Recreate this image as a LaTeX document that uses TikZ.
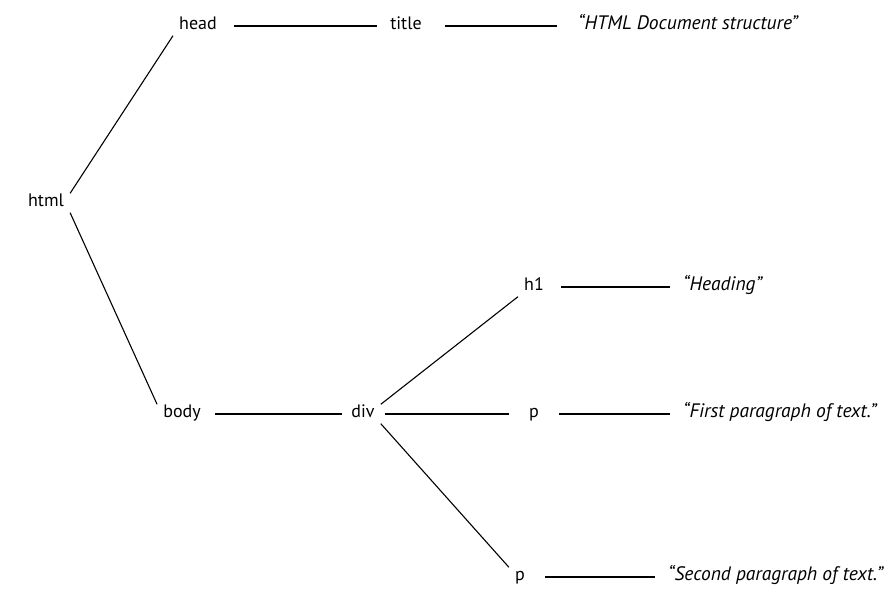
\documentclass[tikz,border=0pt]{standalone}
\usepackage{fontspec}
\setmainfont{PT Sans}
\begin{document}
\begin{tikzpicture}[x=1pt, y=-1pt,
    tagstyle/.style={inner sep=6pt, text height=0.7em, text depth=0pt, font=\fontsize{18}{20}\selectfont},
    quotestyle/.style={tagstyle, anchor=west, font=\fontsize{19.5}{21}\selectfont\itshape},
    link/.style={line width=1.1pt, shorten <=11pt, shorten >=7pt},
    branch/.style={line width=1.1pt}]
                      \useasboundingbox (0,0) rectangle (891,609);

                      \node[tagstyle] (html) at (46,203) {html};
                      \node[tagstyle] (head) at (198,26) {head};
                      \node[tagstyle] (title) at (406,26) {title};
                      \node[quotestyle] (titletext) at (572,26) {“HTML Document structure”};
                      \draw[branch] (html.north east) -- (head.south west);
                      \draw[link] (head) -- (title);
                      \draw[link, shorten <=17pt, shorten >=15pt] (title) -- (titletext);

                      \node[tagstyle] (body) at (182,414) {body};
                      \node[tagstyle] (div) at (363,414) {div};
                      \draw[branch] (html.south east) -- (body.north west);
                      \draw[link, shorten <=8pt, shorten >=3pt] (body) -- (div);

                      \node[tagstyle] (h1) at (534,287) {h1};
                      \node[quotestyle] (h1text) at (677,287) {“Heading”};
                      \node[tagstyle] (pone) at (534,414) {p};
                      \node[quotestyle] (ponetext) at (677,414) {“First paragraph of text.”};
                      \node[tagstyle] (ptwo) at (520,577) {p};
                      \node[quotestyle] (ptwotext) at (662,577) {“Second paragraph of text.”};

                      \draw[branch] (div.north east) -- (h1.south west);
                      \draw[link, shorten <=4pt, shorten >=14pt] (div) -- (pone);
                      \draw[branch] (div.south east) -- (ptwo.north west);

                      \draw[link] (h1) -- (h1text);
                      \draw[link, shorten <=14pt] (pone) -- (ponetext);
                      \draw[link, shorten <=14pt] (ptwo) -- (ptwotext);
                  \end{tikzpicture}
\end{document}
